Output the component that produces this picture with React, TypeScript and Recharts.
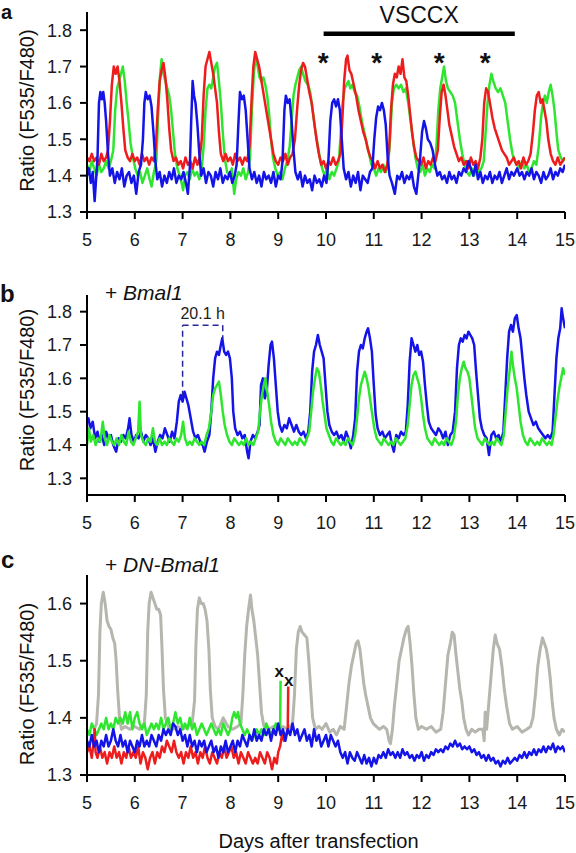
import { LineChart, Line, XAxis, YAxis, ReferenceLine, ReferenceDot } from "recharts";

// traces, stored as flat [day, ratio, day, ratio, ...] lists
const greenA = [
  5.0, 1.43, 5.05, 1.41, 5.1, 1.44, 5.15, 1.42, 5.2, 1.4, 5.25, 1.43, 5.3, 1.41, 5.35, 1.42, 5.4, 1.44, 5.45, 1.42, 5.5, 1.44,
  5.55, 1.47, 5.59, 1.58, 5.63, 1.64, 5.67, 1.66, 5.71, 1.68, 5.75, 1.7, 5.79, 1.66, 5.83, 1.6, 5.87, 1.55, 5.91, 1.49, 5.96, 1.45,
  6.01, 1.42, 6.06, 1.4, 6.11, 1.41, 6.16, 1.38, 6.21, 1.4, 6.26, 1.42, 6.31, 1.39, 6.35, 1.37, 6.4, 1.41, 6.45, 1.44, 6.49, 1.57,
  6.53, 1.68, 6.56, 1.72, 6.6, 1.68, 6.64, 1.66, 6.68, 1.64, 6.72, 1.62, 6.76, 1.58, 6.8, 1.52, 6.84, 1.46, 6.89, 1.42, 6.94, 1.4,
  6.98, 1.38, 7.01, 1.36, 7.05, 1.4, 7.1, 1.41, 7.15, 1.39, 7.2, 1.42, 7.25, 1.4, 7.3, 1.41, 7.35, 1.39, 7.4, 1.42, 7.44, 1.48,
  7.48, 1.58, 7.52, 1.64, 7.56, 1.65, 7.6, 1.64, 7.64, 1.67, 7.68, 1.7, 7.72, 1.71, 7.76, 1.66, 7.8, 1.6, 7.84, 1.52, 7.88, 1.45,
  7.93, 1.41, 7.98, 1.4, 8.03, 1.42, 8.08, 1.35, 8.12, 1.39, 8.17, 1.41, 8.22, 1.4, 8.27, 1.42, 8.32, 1.39, 8.37, 1.41, 8.41, 1.45,
  8.45, 1.58, 8.49, 1.68, 8.53, 1.73, 8.57, 1.7, 8.61, 1.67, 8.65, 1.66, 8.69, 1.67, 8.73, 1.65, 8.77, 1.62, 8.81, 1.57, 8.85, 1.5,
  8.89, 1.45, 8.94, 1.42, 8.99, 1.4, 9.04, 1.41, 9.09, 1.39, 9.14, 1.42, 9.19, 1.44, 9.24, 1.48, 9.28, 1.55, 9.32, 1.62, 9.36, 1.65,
  9.4, 1.67, 9.44, 1.69, 9.48, 1.7, 9.52, 1.68, 9.57, 1.66, 9.62, 1.65, 9.67, 1.63, 9.72, 1.58, 9.77, 1.53, 9.82, 1.49, 9.87, 1.45,
  9.92, 1.42, 9.97, 1.4, 10.02, 1.42, 10.07, 1.39, 10.12, 1.41, 10.17, 1.4, 10.22, 1.42, 10.27, 1.44, 10.31, 1.52, 10.35, 1.6,
  10.39, 1.64, 10.43, 1.65, 10.47, 1.66, 10.51, 1.64, 10.55, 1.65, 10.6, 1.63, 10.65, 1.62, 10.7, 1.59, 10.75, 1.55, 10.8, 1.52,
  10.85, 1.49, 10.9, 1.46, 10.95, 1.43, 11.0, 1.42, 11.05, 1.4, 11.1, 1.42, 11.15, 1.41, 11.2, 1.43, 11.25, 1.41, 11.3, 1.43,
  11.34, 1.5, 11.38, 1.6, 11.42, 1.64, 11.47, 1.65, 11.52, 1.64, 11.57, 1.65, 11.62, 1.63, 11.67, 1.64, 11.72, 1.6, 11.77, 1.55,
  11.82, 1.5, 11.87, 1.45, 11.92, 1.42, 11.97, 1.41, 12.02, 1.43, 12.07, 1.4, 12.12, 1.42, 12.17, 1.41, 12.22, 1.43, 12.27, 1.42,
  12.31, 1.48, 12.35, 1.58, 12.39, 1.64, 12.43, 1.67, 12.47, 1.7, 12.51, 1.66, 12.55, 1.64, 12.6, 1.63, 12.65, 1.62, 12.7, 1.6,
  12.75, 1.55, 12.8, 1.5, 12.85, 1.46, 12.9, 1.43, 12.95, 1.41, 13.0, 1.4, 13.05, 1.42, 13.1, 1.4, 13.15, 1.43, 13.2, 1.41,
  13.25, 1.42, 13.3, 1.44, 13.34, 1.52, 13.38, 1.6, 13.42, 1.65, 13.46, 1.68, 13.5, 1.66, 13.55, 1.64, 13.6, 1.63, 13.65, 1.64,
  13.7, 1.62, 13.75, 1.6, 13.8, 1.55, 13.85, 1.5, 13.9, 1.46, 13.95, 1.44, 14.0, 1.43, 14.05, 1.42, 14.1, 1.44, 14.15, 1.42,
  14.2, 1.43, 14.25, 1.41, 14.3, 1.42, 14.35, 1.44, 14.4, 1.43, 14.45, 1.48, 14.5, 1.56, 14.54, 1.6, 14.58, 1.62, 14.62, 1.6,
  14.66, 1.63, 14.7, 1.65, 14.74, 1.62, 14.78, 1.58, 14.82, 1.52, 14.86, 1.47, 14.91, 1.45, 14.96, 1.44, 15.0, 1.45,
];

const redA = [
  5.0, 1.45, 5.05, 1.44, 5.1, 1.46, 5.15, 1.44, 5.2, 1.45, 5.25, 1.43, 5.3, 1.46, 5.35, 1.44, 5.4, 1.45, 5.44, 1.47, 5.48, 1.55,
  5.52, 1.65, 5.56, 1.7, 5.6, 1.68, 5.64, 1.7, 5.68, 1.66, 5.72, 1.6, 5.76, 1.53, 5.8, 1.47, 5.85, 1.45, 5.9, 1.44, 5.95, 1.46,
  6.0, 1.44, 6.05, 1.45, 6.1, 1.43, 6.15, 1.46, 6.2, 1.44, 6.25, 1.45, 6.3, 1.43, 6.35, 1.45, 6.4, 1.44, 6.44, 1.48, 6.48, 1.58,
  6.52, 1.66, 6.56, 1.69, 6.6, 1.71, 6.64, 1.67, 6.68, 1.61, 6.72, 1.53, 6.76, 1.47, 6.81, 1.44, 6.86, 1.45, 6.91, 1.43, 6.96, 1.44,
  7.01, 1.42, 7.06, 1.45, 7.11, 1.43, 7.16, 1.44, 7.21, 1.42, 7.26, 1.45, 7.31, 1.43, 7.36, 1.45, 7.4, 1.5, 7.44, 1.62, 7.48, 1.7,
  7.52, 1.72, 7.56, 1.74, 7.6, 1.71, 7.64, 1.68, 7.68, 1.64, 7.72, 1.6, 7.76, 1.52, 7.8, 1.46, 7.85, 1.44, 7.9, 1.46, 7.95, 1.44,
  8.0, 1.45, 8.05, 1.43, 8.1, 1.46, 8.15, 1.44, 8.2, 1.45, 8.25, 1.43, 8.3, 1.45, 8.35, 1.44, 8.4, 1.48, 8.44, 1.6, 8.48, 1.7,
  8.52, 1.74, 8.56, 1.72, 8.6, 1.7, 8.65, 1.66, 8.7, 1.62, 8.75, 1.58, 8.8, 1.54, 8.85, 1.5, 8.9, 1.46, 8.95, 1.44, 9.0, 1.43,
  9.05, 1.45, 9.1, 1.44, 9.15, 1.46, 9.2, 1.43, 9.25, 1.45, 9.3, 1.46, 9.35, 1.5, 9.4, 1.59, 9.44, 1.65, 9.48, 1.69, 9.52, 1.71,
  9.56, 1.7, 9.6, 1.67, 9.65, 1.63, 9.7, 1.6, 9.75, 1.55, 9.8, 1.5, 9.85, 1.46, 9.9, 1.43, 9.95, 1.44, 10.0, 1.42, 10.05, 1.44,
  10.1, 1.43, 10.15, 1.45, 10.2, 1.43, 10.25, 1.44, 10.3, 1.46, 10.34, 1.55, 10.38, 1.66, 10.42, 1.72, 10.45, 1.73, 10.49, 1.69,
  10.53, 1.68, 10.58, 1.65, 10.63, 1.62, 10.68, 1.58, 10.73, 1.55, 10.78, 1.52, 10.83, 1.5, 10.88, 1.47, 10.93, 1.45, 10.98, 1.44,
  11.03, 1.42, 11.08, 1.44, 11.13, 1.42, 11.18, 1.43, 11.23, 1.41, 11.28, 1.43, 11.32, 1.47, 11.36, 1.58, 11.4, 1.65, 11.44, 1.68,
  11.48, 1.67, 11.52, 1.7, 11.56, 1.68, 11.6, 1.72, 11.64, 1.67, 11.68, 1.66, 11.72, 1.62, 11.76, 1.57, 11.8, 1.52, 11.84, 1.48,
  11.89, 1.45, 11.94, 1.44, 11.99, 1.43, 12.04, 1.45, 12.09, 1.42, 12.14, 1.44, 12.19, 1.43, 12.24, 1.45, 12.29, 1.44, 12.34, 1.47,
  12.38, 1.56, 12.42, 1.63, 12.46, 1.65, 12.5, 1.62, 12.54, 1.58, 12.58, 1.54, 12.63, 1.51, 12.68, 1.48, 12.73, 1.46, 12.78, 1.44,
  12.83, 1.45, 12.88, 1.43, 12.93, 1.44, 12.98, 1.42, 13.03, 1.45, 13.08, 1.43, 13.13, 1.44, 13.18, 1.42, 13.23, 1.45, 13.27, 1.5,
  13.31, 1.6, 13.35, 1.64, 13.39, 1.63, 13.43, 1.6, 13.48, 1.56, 13.53, 1.53, 13.58, 1.51, 13.63, 1.49, 13.68, 1.47, 13.73, 1.46,
  13.78, 1.45, 13.83, 1.43, 13.88, 1.44, 13.93, 1.45, 13.98, 1.43, 14.03, 1.44, 14.08, 1.42, 14.13, 1.45, 14.18, 1.43, 14.23, 1.44,
  14.28, 1.46, 14.33, 1.52, 14.37, 1.58, 14.41, 1.62, 14.45, 1.63, 14.49, 1.6, 14.53, 1.61, 14.57, 1.58, 14.61, 1.55, 14.65, 1.5,
  14.7, 1.46, 14.75, 1.44, 14.8, 1.43, 14.85, 1.45, 14.9, 1.43, 14.95, 1.44, 15.0, 1.45,
];

const blueA = [
  5.0, 1.4, 5.04, 1.42, 5.08, 1.38, 5.12, 1.41, 5.16, 1.33, 5.19, 1.39, 5.22, 1.45, 5.25, 1.6, 5.28, 1.63, 5.31, 1.61, 5.34, 1.63,
  5.37, 1.6, 5.4, 1.55, 5.44, 1.46, 5.48, 1.4, 5.53, 1.42, 5.58, 1.38, 5.63, 1.41, 5.68, 1.39, 5.73, 1.42, 5.78, 1.37, 5.83, 1.4,
  5.88, 1.41, 5.93, 1.38, 5.98, 1.4, 6.03, 1.35, 6.08, 1.41, 6.13, 1.43, 6.17, 1.5, 6.2, 1.6, 6.23, 1.63, 6.27, 1.61, 6.31, 1.62,
  6.35, 1.59, 6.39, 1.52, 6.43, 1.44, 6.47, 1.39, 6.52, 1.41, 6.57, 1.37, 6.62, 1.4, 6.67, 1.38, 6.72, 1.41, 6.77, 1.39, 6.82, 1.42,
  6.87, 1.38, 6.92, 1.4, 6.97, 1.39, 7.02, 1.41, 7.07, 1.38, 7.11, 1.35, 7.15, 1.42, 7.18, 1.55, 7.21, 1.66, 7.24, 1.62, 7.27, 1.6,
  7.31, 1.54, 7.35, 1.46, 7.39, 1.4, 7.44, 1.42, 7.49, 1.38, 7.54, 1.41, 7.59, 1.4, 7.64, 1.37, 7.69, 1.41, 7.74, 1.39, 7.79, 1.42,
  7.84, 1.38, 7.89, 1.4, 7.94, 1.39, 7.99, 1.41, 8.04, 1.38, 8.09, 1.4, 8.13, 1.43, 8.17, 1.55, 8.2, 1.63, 8.24, 1.61, 8.28, 1.62,
  8.32, 1.58, 8.36, 1.5, 8.4, 1.42, 8.45, 1.39, 8.5, 1.41, 8.55, 1.38, 8.6, 1.4, 8.65, 1.37, 8.7, 1.41, 8.75, 1.39, 8.8, 1.4,
  8.85, 1.38, 8.9, 1.41, 8.95, 1.37, 9.0, 1.4, 9.05, 1.39, 9.09, 1.44, 9.13, 1.58, 9.16, 1.62, 9.2, 1.6, 9.24, 1.61, 9.28, 1.55,
  9.32, 1.47, 9.36, 1.41, 9.41, 1.39, 9.46, 1.41, 9.51, 1.37, 9.56, 1.4, 9.61, 1.38, 9.66, 1.39, 9.71, 1.36, 9.76, 1.4, 9.81, 1.38,
  9.86, 1.39, 9.91, 1.37, 9.96, 1.4, 10.01, 1.38, 10.05, 1.44, 10.09, 1.55, 10.13, 1.6, 10.17, 1.61, 10.21, 1.59, 10.25, 1.61,
  10.29, 1.58, 10.33, 1.5, 10.37, 1.42, 10.42, 1.39, 10.47, 1.41, 10.52, 1.37, 10.57, 1.4, 10.62, 1.38, 10.67, 1.41, 10.72, 1.36,
  10.77, 1.4, 10.82, 1.39, 10.87, 1.38, 10.92, 1.41, 10.97, 1.42, 11.01, 1.5, 11.05, 1.56, 11.09, 1.59, 11.13, 1.58, 11.17, 1.6,
  11.21, 1.58, 11.25, 1.54, 11.29, 1.45, 11.33, 1.4, 11.38, 1.38, 11.44, 1.35, 11.49, 1.4, 11.54, 1.39, 11.59, 1.41, 11.64, 1.38,
  11.69, 1.4, 11.74, 1.39, 11.79, 1.41, 11.84, 1.37, 11.89, 1.35, 11.93, 1.4, 11.97, 1.45, 12.01, 1.52, 12.05, 1.55, 12.09, 1.53,
  12.13, 1.5, 12.18, 1.49, 12.23, 1.47, 12.28, 1.43, 12.33, 1.4, 12.38, 1.41, 12.43, 1.39, 12.48, 1.4, 12.53, 1.38, 12.58, 1.41,
  12.63, 1.39, 12.68, 1.4, 12.73, 1.38, 12.78, 1.41, 12.83, 1.4, 12.88, 1.42, 12.93, 1.41, 12.98, 1.44, 13.03, 1.42, 13.08, 1.4,
  13.13, 1.43, 13.18, 1.39, 13.23, 1.41, 13.28, 1.38, 13.33, 1.4, 13.38, 1.39, 13.43, 1.41, 13.48, 1.38, 13.53, 1.4, 13.58, 1.39,
  13.63, 1.41, 13.68, 1.38, 13.73, 1.4, 13.78, 1.42, 13.83, 1.39, 13.88, 1.41, 13.93, 1.4, 14.0, 1.42, 14.05, 1.4, 14.1, 1.41,
  14.15, 1.39, 14.2, 1.41, 14.25, 1.4, 14.3, 1.42, 14.35, 1.39, 14.4, 1.41, 14.45, 1.4, 14.5, 1.38, 14.55, 1.41, 14.6, 1.39,
  14.65, 1.4, 14.7, 1.42, 14.75, 1.39, 14.8, 1.41, 14.85, 1.4, 14.9, 1.42, 14.95, 1.41, 15.0, 1.43,
];

const blueB = [
  5.0, 1.47, 5.03, 1.48, 5.07, 1.45, 5.12, 1.47, 5.17, 1.42, 5.22, 1.44, 5.26, 1.41, 5.31, 1.43, 5.36, 1.4, 5.4, 1.44, 5.45, 1.42,
  5.5, 1.43, 5.55, 1.4, 5.61, 1.38, 5.66, 1.42, 5.71, 1.41, 5.76, 1.43, 5.81, 1.42, 5.86, 1.45, 5.89, 1.48, 5.93, 1.43, 5.98, 1.41,
  6.03, 1.43, 6.08, 1.42, 6.13, 1.44, 6.18, 1.41, 6.23, 1.43, 6.28, 1.42, 6.33, 1.4, 6.38, 1.42, 6.43, 1.38, 6.48, 1.41, 6.53, 1.43,
  6.58, 1.42, 6.63, 1.45, 6.68, 1.43, 6.73, 1.41, 6.78, 1.44, 6.83, 1.42, 6.88, 1.47, 6.92, 1.53, 6.96, 1.55, 7.0, 1.53, 7.04, 1.56,
  7.08, 1.54, 7.12, 1.52, 7.17, 1.48, 7.22, 1.44, 7.27, 1.42, 7.32, 1.43, 7.37, 1.41, 7.42, 1.4, 7.46, 1.38, 7.51, 1.41, 7.56, 1.43,
  7.6, 1.5, 7.64, 1.6, 7.68, 1.66, 7.72, 1.68, 7.76, 1.67, 7.8, 1.7, 7.83, 1.72, 7.87, 1.68, 7.91, 1.67, 7.95, 1.68, 7.99, 1.66,
  8.03, 1.6, 8.06, 1.5, 8.1, 1.45, 8.15, 1.43, 8.2, 1.44, 8.25, 1.42, 8.3, 1.43, 8.35, 1.38, 8.38, 1.36, 8.42, 1.41, 8.47, 1.43,
  8.52, 1.42, 8.57, 1.44, 8.61, 1.46, 8.64, 1.58, 8.68, 1.6, 8.72, 1.54, 8.76, 1.56, 8.8, 1.64, 8.84, 1.7, 8.87, 1.71, 8.91, 1.66,
  8.95, 1.58, 8.99, 1.5, 9.03, 1.46, 9.08, 1.44, 9.13, 1.46, 9.18, 1.45, 9.23, 1.48, 9.28, 1.46, 9.33, 1.44, 9.38, 1.46, 9.43, 1.44,
  9.48, 1.43, 9.53, 1.44, 9.58, 1.42, 9.63, 1.44, 9.67, 1.5, 9.71, 1.62, 9.75, 1.68, 9.79, 1.7, 9.83, 1.73, 9.87, 1.7, 9.91, 1.68,
  9.95, 1.66, 9.99, 1.58, 10.03, 1.5, 10.07, 1.46, 10.12, 1.44, 10.17, 1.43, 10.22, 1.44, 10.27, 1.42, 10.32, 1.43, 10.37, 1.41,
  10.42, 1.44, 10.47, 1.42, 10.52, 1.39, 10.57, 1.43, 10.61, 1.48, 10.65, 1.62, 10.69, 1.68, 10.73, 1.7, 10.77, 1.69, 10.81, 1.72,
  10.85, 1.74, 10.88, 1.75, 10.92, 1.72, 10.96, 1.68, 11.0, 1.58, 11.04, 1.49, 11.08, 1.45, 11.13, 1.43, 11.18, 1.44, 11.23, 1.42,
  11.28, 1.43, 11.33, 1.44, 11.38, 1.4, 11.42, 1.38, 11.47, 1.43, 11.52, 1.42, 11.57, 1.44, 11.62, 1.43, 11.67, 1.44, 11.71, 1.52,
  11.75, 1.65, 11.79, 1.72, 11.83, 1.7, 11.87, 1.68, 11.91, 1.7, 11.95, 1.67, 11.99, 1.68, 12.03, 1.65, 12.07, 1.58, 12.11, 1.52,
  12.15, 1.47, 12.2, 1.45, 12.25, 1.44, 12.3, 1.43, 12.35, 1.45, 12.4, 1.44, 12.45, 1.42, 12.5, 1.44, 12.55, 1.4, 12.6, 1.43,
  12.65, 1.44, 12.7, 1.5, 12.74, 1.63, 12.78, 1.7, 12.82, 1.72, 12.86, 1.71, 12.9, 1.73, 12.94, 1.72, 12.98, 1.74, 13.02, 1.73,
  13.06, 1.72, 13.1, 1.7, 13.14, 1.62, 13.18, 1.55, 13.22, 1.48, 13.26, 1.45, 13.31, 1.43, 13.36, 1.42, 13.41, 1.37, 13.46, 1.43,
  13.51, 1.44, 13.56, 1.42, 13.61, 1.43, 13.66, 1.41, 13.71, 1.44, 13.75, 1.55, 13.79, 1.66, 13.83, 1.74, 13.87, 1.76, 13.91, 1.74,
  13.95, 1.78, 13.99, 1.79, 14.03, 1.75, 14.07, 1.72, 14.11, 1.66, 14.15, 1.6, 14.19, 1.55, 14.24, 1.5, 14.29, 1.48, 14.34, 1.46,
  14.39, 1.47, 14.44, 1.45, 14.49, 1.44, 14.54, 1.43, 14.59, 1.42, 14.64, 1.43, 14.69, 1.42, 14.74, 1.44, 14.78, 1.55, 14.82, 1.66,
  14.86, 1.72, 14.9, 1.75, 14.93, 1.81, 14.96, 1.78, 15.0, 1.75,
];

const greenB = [
  5.0, 1.4, 5.04, 1.45, 5.08, 1.41, 5.13, 1.43, 5.18, 1.4, 5.23, 1.42, 5.28, 1.41, 5.33, 1.47, 5.37, 1.42, 5.42, 1.4, 5.47, 1.43,
  5.52, 1.41, 5.57, 1.4, 5.62, 1.42, 5.67, 1.4, 5.72, 1.43, 5.77, 1.41, 5.82, 1.4, 5.87, 1.44, 5.92, 1.41, 5.97, 1.4, 6.02, 1.42,
  6.07, 1.44, 6.1, 1.53, 6.13, 1.43, 6.18, 1.41, 6.23, 1.4, 6.28, 1.42, 6.33, 1.41, 6.38, 1.45, 6.42, 1.41, 6.47, 1.4, 6.52, 1.42,
  6.57, 1.4, 6.62, 1.41, 6.67, 1.4, 6.72, 1.42, 6.77, 1.41, 6.82, 1.4, 6.87, 1.42, 6.92, 1.41, 6.97, 1.43, 7.01, 1.47, 7.05, 1.42,
  7.1, 1.4, 7.15, 1.41, 7.2, 1.4, 7.25, 1.42, 7.3, 1.41, 7.35, 1.4, 7.4, 1.41, 7.45, 1.4, 7.5, 1.43, 7.55, 1.45, 7.6, 1.5,
  7.64, 1.55, 7.68, 1.57, 7.72, 1.58, 7.76, 1.59, 7.8, 1.55, 7.84, 1.5, 7.88, 1.46, 7.93, 1.43, 7.98, 1.41, 8.03, 1.4, 8.08, 1.42,
  8.13, 1.41, 8.18, 1.4, 8.23, 1.41, 8.28, 1.4, 8.33, 1.42, 8.38, 1.4, 8.43, 1.41, 8.48, 1.4, 8.53, 1.42, 8.58, 1.44, 8.62, 1.5,
  8.66, 1.55, 8.7, 1.58, 8.73, 1.6, 8.77, 1.56, 8.81, 1.52, 8.85, 1.47, 8.9, 1.43, 8.95, 1.41, 9.0, 1.4, 9.05, 1.42, 9.1, 1.41,
  9.15, 1.4, 9.2, 1.42, 9.25, 1.41, 9.3, 1.4, 9.35, 1.41, 9.4, 1.4, 9.45, 1.42, 9.5, 1.41, 9.55, 1.4, 9.6, 1.42, 9.65, 1.44,
  9.69, 1.5, 9.73, 1.56, 9.77, 1.6, 9.81, 1.63, 9.85, 1.62, 9.89, 1.58, 9.93, 1.53, 9.97, 1.49, 10.01, 1.45, 10.06, 1.43,
  10.11, 1.41, 10.16, 1.4, 10.21, 1.42, 10.26, 1.41, 10.31, 1.4, 10.36, 1.41, 10.41, 1.4, 10.46, 1.42, 10.51, 1.41, 10.56, 1.4,
  10.61, 1.43, 10.65, 1.48, 10.69, 1.54, 10.73, 1.58, 10.77, 1.6, 10.81, 1.62, 10.85, 1.6, 10.89, 1.57, 10.93, 1.53, 10.97, 1.49,
  11.01, 1.45, 11.06, 1.42, 11.11, 1.41, 11.16, 1.4, 11.21, 1.42, 11.26, 1.41, 11.31, 1.4, 11.36, 1.41, 11.41, 1.4, 11.46, 1.42,
  11.51, 1.41, 11.56, 1.4, 11.61, 1.41, 11.66, 1.42, 11.71, 1.46, 11.75, 1.52, 11.79, 1.58, 11.83, 1.61, 11.87, 1.62, 11.91, 1.6,
  11.95, 1.58, 11.99, 1.54, 12.03, 1.49, 12.07, 1.45, 12.12, 1.42, 12.17, 1.41, 12.22, 1.4, 12.27, 1.42, 12.32, 1.41, 12.37, 1.4,
  12.42, 1.41, 12.47, 1.4, 12.52, 1.42, 12.57, 1.41, 12.62, 1.4, 12.67, 1.42, 12.72, 1.47, 12.76, 1.55, 12.8, 1.6, 12.84, 1.63,
  12.88, 1.65, 12.92, 1.63, 12.96, 1.62, 13.0, 1.6, 13.04, 1.55, 13.08, 1.5, 13.12, 1.45, 13.17, 1.42, 13.22, 1.41, 13.27, 1.4,
  13.32, 1.42, 13.37, 1.41, 13.42, 1.4, 13.47, 1.41, 13.52, 1.4, 13.57, 1.42, 13.62, 1.41, 13.67, 1.4, 13.72, 1.43, 13.76, 1.5,
  13.8, 1.57, 13.84, 1.62, 13.88, 1.68, 13.91, 1.64, 13.95, 1.6, 13.99, 1.57, 14.03, 1.52, 14.07, 1.47, 14.12, 1.43, 14.17, 1.41,
  14.22, 1.4, 14.27, 1.42, 14.32, 1.41, 14.37, 1.4, 14.42, 1.41, 14.47, 1.4, 14.52, 1.42, 14.57, 1.41, 14.62, 1.4, 14.67, 1.41,
  14.72, 1.4, 14.76, 1.43, 14.8, 1.48, 14.84, 1.53, 14.88, 1.57, 14.92, 1.6, 14.96, 1.63, 15.0, 1.61,
];

const grayC = [
  5.15, 1.38, 5.2, 1.39, 5.24, 1.44, 5.27, 1.55, 5.3, 1.6, 5.34, 1.62, 5.38, 1.6, 5.42, 1.57, 5.46, 1.56, 5.5, 1.555, 5.54, 1.54,
  5.58, 1.53, 5.61, 1.5, 5.64, 1.45, 5.68, 1.4, 5.72, 1.38, 5.8, 1.385, 5.9, 1.38, 6.0, 1.385, 6.1, 1.38, 6.2, 1.39, 6.24, 1.44,
  6.27, 1.55, 6.3, 1.6, 6.34, 1.62, 6.38, 1.61, 6.42, 1.6, 6.46, 1.59, 6.5, 1.59, 6.54, 1.58, 6.57, 1.52, 6.6, 1.45, 6.64, 1.4,
  6.7, 1.385, 6.8, 1.38, 6.9, 1.385, 7.0, 1.38, 7.1, 1.385, 7.2, 1.39, 7.25, 1.43, 7.28, 1.53, 7.31, 1.59, 7.35, 1.61, 7.39, 1.6,
  7.43, 1.6, 7.47, 1.59, 7.51, 1.57, 7.55, 1.52, 7.58, 1.45, 7.62, 1.4, 7.68, 1.385, 7.75, 1.38, 7.85, 1.4, 7.95, 1.385, 8.05, 1.38,
  8.15, 1.385, 8.22, 1.39, 8.26, 1.44, 8.3, 1.51, 8.34, 1.56, 8.38, 1.59, 8.42, 1.615, 8.45, 1.59, 8.49, 1.57, 8.53, 1.54, 8.57, 1.51,
  8.61, 1.46, 8.65, 1.41, 8.7, 1.385, 8.8, 1.38, 8.9, 1.385, 9.0, 1.38, 9.1, 1.385, 9.2, 1.38, 9.3, 1.39, 9.34, 1.44, 9.38, 1.52,
  9.42, 1.55, 9.46, 1.56, 9.5, 1.55, 9.55, 1.545, 9.6, 1.54, 9.64, 1.5, 9.68, 1.45, 9.72, 1.4, 9.78, 1.38, 9.85, 1.385, 9.92, 1.38,
  10.0, 1.39, 10.08, 1.375, 10.15, 1.38, 10.22, 1.37, 10.3, 1.385, 10.38, 1.38, 10.43, 1.42, 10.48, 1.46, 10.53, 1.49, 10.58, 1.51,
  10.63, 1.53, 10.67, 1.535, 10.71, 1.52, 10.75, 1.49, 10.79, 1.46, 10.83, 1.44, 10.88, 1.42, 10.93, 1.4, 10.99, 1.39, 11.05, 1.385,
  11.12, 1.38, 11.2, 1.385, 11.27, 1.38, 11.32, 1.36, 11.35, 1.355, 11.39, 1.38, 11.43, 1.42, 11.48, 1.46, 11.53, 1.5, 11.58, 1.52,
  11.63, 1.54, 11.68, 1.555, 11.72, 1.56, 11.76, 1.53, 11.8, 1.49, 11.84, 1.44, 11.88, 1.4, 11.93, 1.38, 12.0, 1.385, 12.1, 1.38,
  12.2, 1.385, 12.3, 1.375, 12.4, 1.38, 12.45, 1.41, 12.5, 1.46, 12.55, 1.51, 12.6, 1.53, 12.64, 1.55, 12.68, 1.545, 12.72, 1.51,
  12.76, 1.48, 12.8, 1.45, 12.84, 1.43, 12.88, 1.4, 12.93, 1.38, 12.98, 1.37, 13.05, 1.38, 13.12, 1.375, 13.2, 1.38, 13.28, 1.38,
  13.31, 1.36, 13.33, 1.41, 13.36, 1.38, 13.4, 1.42, 13.45, 1.47, 13.5, 1.52, 13.54, 1.545, 13.58, 1.53, 13.63, 1.52, 13.68, 1.49,
  13.73, 1.45, 13.78, 1.42, 13.84, 1.39, 13.9, 1.38, 14.0, 1.385, 14.1, 1.375, 14.2, 1.38, 14.28, 1.385, 14.33, 1.4, 14.38, 1.44,
  14.43, 1.49, 14.48, 1.52, 14.53, 1.54, 14.57, 1.53, 14.61, 1.52, 14.65, 1.5, 14.69, 1.47, 14.73, 1.43, 14.77, 1.4, 14.82, 1.38,
  14.88, 1.37, 14.94, 1.38, 15.0, 1.375,
];

const greenC = [
  5.0, 1.38, 5.05, 1.37, 5.1, 1.39, 5.15, 1.38, 5.2, 1.37, 5.25, 1.38, 5.3, 1.39, 5.35, 1.38, 5.4, 1.4, 5.45, 1.38, 5.5, 1.39,
  5.55, 1.38, 5.6, 1.4, 5.65, 1.39, 5.7, 1.4, 5.75, 1.39, 5.8, 1.41, 5.85, 1.39, 5.9, 1.41, 5.95, 1.38, 6.0, 1.4, 6.05, 1.41,
  6.1, 1.39, 6.15, 1.38, 6.2, 1.39, 6.25, 1.37, 6.3, 1.38, 6.35, 1.39, 6.4, 1.38, 6.45, 1.39, 6.5, 1.38, 6.55, 1.4, 6.6, 1.38,
  6.65, 1.39, 6.7, 1.4, 6.75, 1.38, 6.8, 1.39, 6.85, 1.41, 6.9, 1.39, 6.95, 1.4, 7.0, 1.38, 7.05, 1.39, 7.1, 1.38, 7.15, 1.4,
  7.2, 1.38, 7.25, 1.39, 7.3, 1.37, 7.35, 1.38, 7.4, 1.39, 7.45, 1.38, 7.5, 1.37, 7.55, 1.38, 7.6, 1.39, 7.65, 1.38, 7.7, 1.37,
  7.75, 1.38, 7.8, 1.37, 7.85, 1.39, 7.9, 1.38, 7.95, 1.37, 8.0, 1.38, 8.04, 1.4, 8.08, 1.41, 8.12, 1.4, 8.16, 1.41, 8.2, 1.39,
  8.25, 1.38, 8.3, 1.37, 8.35, 1.38, 8.4, 1.37, 8.45, 1.36, 8.5, 1.37, 8.55, 1.38, 8.6, 1.37, 8.65, 1.38, 8.7, 1.37, 8.75, 1.39,
  8.8, 1.38, 8.85, 1.37, 8.9, 1.38, 8.95, 1.39, 9.0, 1.38, 9.04, 1.38, 9.05, 1.465,
];

const redC = [
  5.0, 1.34, 5.05, 1.35, 5.1, 1.33, 5.14, 1.36, 5.16, 1.38, 5.18, 1.34, 5.22, 1.33, 5.27, 1.35, 5.32, 1.33, 5.37, 1.34, 5.42, 1.32,
  5.47, 1.34, 5.52, 1.33, 5.57, 1.35, 5.62, 1.33, 5.67, 1.34, 5.72, 1.32, 5.77, 1.34, 5.82, 1.33, 5.87, 1.35, 5.92, 1.33, 5.97, 1.34,
  6.02, 1.33, 6.07, 1.35, 6.12, 1.32, 6.17, 1.34, 6.22, 1.33, 6.27, 1.31, 6.32, 1.33, 6.37, 1.34, 6.42, 1.32, 6.47, 1.34, 6.52, 1.33,
  6.57, 1.35, 6.62, 1.34, 6.67, 1.36, 6.72, 1.35, 6.77, 1.34, 6.82, 1.36, 6.87, 1.34, 6.92, 1.33, 6.97, 1.34, 7.02, 1.32, 7.07, 1.34,
  7.12, 1.33, 7.17, 1.35, 7.22, 1.33, 7.27, 1.34, 7.32, 1.32, 7.37, 1.34, 7.42, 1.33, 7.47, 1.35, 7.52, 1.33, 7.57, 1.32, 7.62, 1.34,
  7.67, 1.33, 7.72, 1.32, 7.77, 1.34, 7.82, 1.33, 7.87, 1.35, 7.92, 1.33, 7.97, 1.34, 8.02, 1.35, 8.07, 1.33, 8.12, 1.34, 8.17, 1.32,
  8.22, 1.34, 8.27, 1.33, 8.32, 1.32, 8.37, 1.34, 8.42, 1.33, 8.47, 1.32, 8.52, 1.33, 8.57, 1.32, 8.62, 1.34, 8.67, 1.33, 8.72, 1.32,
  8.77, 1.34, 8.82, 1.33, 8.87, 1.31, 8.92, 1.33, 8.97, 1.32, 9.0, 1.34, 9.04, 1.35, 9.08, 1.37, 9.12, 1.36, 9.16, 1.37, 9.2, 1.38,
  9.21, 1.455,
];

const blueC = [
  5.0, 1.36, 5.05, 1.35, 5.1, 1.37, 5.15, 1.35, 5.2, 1.36, 5.25, 1.34, 5.3, 1.36, 5.35, 1.35, 5.4, 1.37, 5.45, 1.35, 5.5, 1.36,
  5.55, 1.38, 5.6, 1.36, 5.65, 1.35, 5.7, 1.37, 5.75, 1.35, 5.8, 1.36, 5.85, 1.34, 5.9, 1.36, 5.95, 1.35, 6.0, 1.34, 6.05, 1.36,
  6.1, 1.35, 6.15, 1.37, 6.2, 1.35, 6.25, 1.36, 6.3, 1.35, 6.35, 1.37, 6.4, 1.36, 6.45, 1.35, 6.5, 1.37, 6.55, 1.36, 6.6, 1.38,
  6.65, 1.37, 6.7, 1.38, 6.75, 1.37, 6.8, 1.39, 6.85, 1.385, 6.9, 1.37, 6.95, 1.38, 7.0, 1.36, 7.05, 1.37, 7.1, 1.35, 7.15, 1.37,
  7.2, 1.35, 7.25, 1.36, 7.3, 1.34, 7.35, 1.36, 7.4, 1.35, 7.45, 1.36, 7.5, 1.34, 7.55, 1.35, 7.6, 1.36, 7.65, 1.34, 7.7, 1.35,
  7.75, 1.33, 7.8, 1.35, 7.85, 1.34, 7.9, 1.36, 7.95, 1.34, 8.0, 1.35, 8.05, 1.36, 8.1, 1.34, 8.15, 1.36, 8.2, 1.35, 8.25, 1.37,
  8.3, 1.36, 8.35, 1.35, 8.4, 1.37, 8.45, 1.36, 8.5, 1.38, 8.55, 1.36, 8.6, 1.37, 8.65, 1.36, 8.7, 1.38, 8.75, 1.37, 8.8, 1.38,
  8.85, 1.36, 8.9, 1.38, 8.95, 1.37, 9.0, 1.39, 9.05, 1.37, 9.1, 1.38, 9.15, 1.36, 9.2, 1.38, 9.25, 1.37, 9.3, 1.39, 9.35, 1.37,
  9.4, 1.38, 9.45, 1.36, 9.5, 1.37, 9.55, 1.38, 9.6, 1.36, 9.65, 1.37, 9.7, 1.35, 9.75, 1.38, 9.8, 1.36, 9.85, 1.37, 9.9, 1.35,
  9.95, 1.36, 10.0, 1.37, 10.05, 1.35, 10.1, 1.37, 10.15, 1.36, 10.2, 1.35, 10.25, 1.36, 10.3, 1.34, 10.35, 1.33, 10.4, 1.34,
  10.45, 1.32, 10.5, 1.34, 10.55, 1.33, 10.6, 1.325, 10.65, 1.34, 10.7, 1.33, 10.75, 1.32, 10.8, 1.335, 10.85, 1.32, 10.9, 1.33,
  10.95, 1.315, 11.0, 1.33, 11.05, 1.32, 11.1, 1.335, 11.15, 1.33, 11.2, 1.34, 11.25, 1.33, 11.3, 1.345, 11.35, 1.335, 11.4, 1.34,
  11.45, 1.33, 11.5, 1.34, 11.55, 1.33, 11.6, 1.345, 11.65, 1.335, 11.7, 1.34, 11.75, 1.33, 11.8, 1.335, 11.85, 1.325, 11.9, 1.335,
  11.95, 1.33, 12.0, 1.34, 12.05, 1.325, 12.1, 1.335, 12.15, 1.33, 12.2, 1.34, 12.25, 1.335, 12.3, 1.345, 12.35, 1.34, 12.4, 1.345,
  12.45, 1.34, 12.5, 1.35, 12.55, 1.345, 12.6, 1.355, 12.65, 1.35, 12.7, 1.36, 12.75, 1.35, 12.8, 1.355, 12.85, 1.345, 12.9, 1.35,
  12.95, 1.345, 13.0, 1.35, 13.05, 1.34, 13.1, 1.345, 13.15, 1.335, 13.2, 1.34, 13.25, 1.33, 13.3, 1.335, 13.35, 1.325, 13.4, 1.335,
  13.45, 1.325, 13.5, 1.33, 13.55, 1.32, 13.6, 1.325, 13.65, 1.315, 13.7, 1.325, 13.75, 1.32, 13.8, 1.33, 13.85, 1.32, 13.9, 1.325,
  13.95, 1.33, 14.0, 1.325, 14.05, 1.335, 14.1, 1.33, 14.15, 1.34, 14.2, 1.33, 14.25, 1.34, 14.3, 1.335, 14.35, 1.345, 14.4, 1.335,
  14.45, 1.345, 14.5, 1.34, 14.55, 1.35, 14.6, 1.34, 14.65, 1.35, 14.7, 1.345, 14.75, 1.355, 14.8, 1.34, 14.85, 1.35, 14.9, 1.345,
  14.95, 1.35, 15.0, 1.34,
];

const dayTicks = [5, 6, 7, 8, 9, 10, 11, 12, 13, 14, 15];
const ratioTicksAB = [1.3, 1.4, 1.5, 1.6, 1.7, 1.8];
const ratioTicksC = [1.3, 1.4, 1.5, 1.6];
const asteriskDays = [9.94, 11.06, 12.37, 13.33];

const BLUE = "#1414e8";
const RED = "#ee1c1c";
const GREEN = "#2ee62e";
const GRAY = "#b6b6ae";
const FONT = "Liberation Sans, Arial, sans-serif";

const pts = (flat: number[]) => {
  const out: { x: number; y: number }[] = [];
  for (let i = 0; i < flat.length; i += 2) out.push({ x: flat[i], y: flat[i + 1] });
  return out;
};

const W = 576;
const H = 250;
const margin = { top: 12, right: 11, left: 27, bottom: 8 };
const tickStyle = { fontSize: 18, fill: "#1a1a1a", fontFamily: FONT };
const axisLine = { stroke: "#000", strokeWidth: 2 };

function trace(data: number[], color: string, key: string, width = 2.5) {
  return (
    <Line
      key={key}
      data={pts(data)}
      dataKey="y"
      type="linear"
      stroke={color}
      strokeWidth={width}
      dot={false}
      isAnimationActive={false}
      strokeLinejoin="round"
    />
  );
}

function xAxis() {
  return (
    <XAxis
      dataKey="x"
      type="number"
      domain={[5, 15]}
      ticks={dayTicks}
      allowDataOverflow
      height={30}
      tick={tickStyle}
      tickSize={7}
      tickMargin={14}
      axisLine={axisLine}
      tickLine={axisLine}
      interval={0}
    />
  );
}

function yAxis(domain: number[], ticks: number[]) {
  return (
    <YAxis
      type="number"
      domain={domain}
      ticks={ticks}
      allowDataOverflow
      width={60}
      tick={tickStyle}
      tickSize={7}
      tickMargin={8}
      axisLine={axisLine}
      tickLine={axisLine}
      interval={0}
      tickFormatter={(v: number) => v.toFixed(1)}
    />
  );
}

const yTitle = "Ratio (F535/F480)";
const xTitle = "Days after transfection";

export default function App() {
  return (
    <div style={{ position: "absolute", left: 0, top: 0, width: W, height: 853, background: "#fff", overflow: "hidden" }}>
      {/* panel a */}
      <div style={{ position: "absolute", left: 0, top: 0 }}>
        <LineChart width={W} height={H} margin={margin}>
          {xAxis()}
          {yAxis([1.3, 1.85], ratioTicksAB)}
          {trace(greenA, GREEN, "ga")}
          {trace(redA, RED, "ra")}
          {trace(blueA, BLUE, "ba")}
          <ReferenceLine
            segment={[{ x: 9.95, y: 1.79 }, { x: 13.95, y: 1.79 }]}
            stroke="#000"
            strokeWidth={4.5}
          />
          <ReferenceDot
            x={11.95}
            y={1.842}
            r={0}
            fill="none"
            stroke="none"
            label={{ value: "VSCCX", position: "center", fontSize: 23, fill: "#111", fontFamily: FONT }}
          />
          {asteriskDays.map((d) => (
            <ReferenceDot
              key={d}
              x={d}
              y={1.712}
              r={0}
              fill="none"
              stroke="none"
              label={{ value: "*", position: "center", fontSize: 28, fontWeight: 700, fill: "#111", fontFamily: FONT }}
            />
          ))}
        </LineChart>
      </div>

      {/* panel b */}
      <div style={{ position: "absolute", left: 0, top: 283 }}>
        <LineChart width={W} height={H} margin={margin}>
          {xAxis()}
          {yAxis([1.25, 1.85], ratioTicksAB)}
          {trace(blueB, BLUE, "bb")}
          {trace(greenB, GREEN, "gb")}
          <ReferenceLine segment={[{ x: 7.0, y: 1.545 }, { x: 7.0, y: 1.759 }]} stroke="#26269a" strokeWidth={1.5} strokeDasharray="6 4" />
          <ReferenceLine segment={[{ x: 7.0, y: 1.759 }, { x: 7.84, y: 1.759 }]} stroke="#26269a" strokeWidth={1.5} strokeDasharray="6 4" />
          <ReferenceLine segment={[{ x: 7.84, y: 1.759 }, { x: 7.84, y: 1.72 }]} stroke="#26269a" strokeWidth={1.5} strokeDasharray="6 4" />
          <ReferenceDot
            x={7.42}
            y={1.794}
            r={0}
            fill="none"
            stroke="none"
            label={{ value: "20.1 h", position: "center", fontSize: 16, fill: "#222", fontFamily: FONT }}
          />
        </LineChart>
      </div>

      {/* panel c */}
      <div style={{ position: "absolute", left: 0, top: 563 }}>
        <LineChart width={W} height={H} margin={margin}>
          {xAxis()}
          {yAxis([1.3, 1.65], ratioTicksC)}
          {trace(grayC, GRAY, "gc0", 3)}
          {trace(greenC, GREEN, "gc")}
          {trace(redC, RED, "rc")}
          {trace(blueC, BLUE, "bc")}
          <ReferenceDot
            x={9.02}
            y={1.482}
            r={0}
            fill="none"
            stroke="none"
            label={{ value: "x", position: "center", fontSize: 17, fontWeight: 700, fill: "#111", fontFamily: FONT }}
          />
          <ReferenceDot
            x={9.22}
            y={1.466}
            r={0}
            fill="none"
            stroke="none"
            label={{ value: "x", position: "center", fontSize: 17, fontWeight: 700, fill: "#111", fontFamily: FONT }}
          />
        </LineChart>
      </div>

      {/* static labels */}
      <svg width={W} height={853} style={{ position: "absolute", left: 0, top: 0, pointerEvents: "none" }} fontFamily={FONT}>
        <text x={1} y={19} fontSize={20} fontWeight={700} fill="#111">a</text>
        <text x={0} y={301.5} fontSize={24} fontWeight={700} fill="#111">b</text>
        <text x={1} y={568} fontSize={24} fontWeight={700} fill="#111">c</text>
        <text x={105} y={300} fontSize={21} fill="#111">
          + <tspan fontStyle="italic">Bmal1</tspan>
        </text>
        <text x={105} y={571.5} fontSize={21} fill="#111">
          + <tspan fontStyle="italic">DN-Bmal1</tspan>
        </text>
        {[110.5, 390, 684].map((cy) => (
          <text
            key={cy}
            x={34}
            y={cy}
            fontSize={20}
            fill="#111"
            textAnchor="middle"
            transform={`rotate(-90, 34, ${cy})`}
          >
            {yTitle}
          </text>
        ))}
        <text x={318.5} y={847.5} fontSize={20} fill="#111" textAnchor="middle">
          {xTitle}
        </text>
      </svg>
    </div>
  );
}
